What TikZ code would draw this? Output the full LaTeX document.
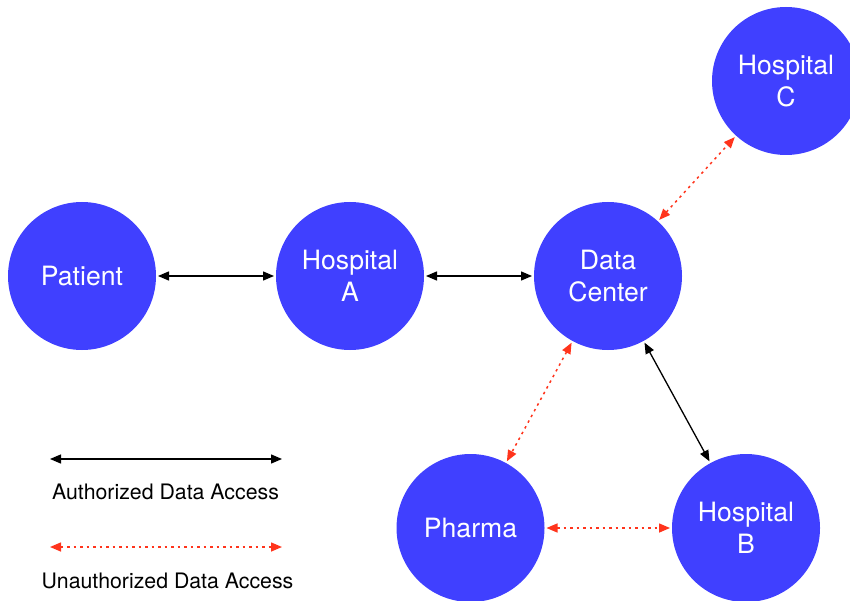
\documentclass[tikz,border=0pt]{standalone}
\usepackage{fontspec}
\setmainfont{TeX Gyre Heros}
\usetikzlibrary{arrows.meta}
\definecolor{nodeblue}{RGB}{64,64,255}
\definecolor{accred}{RGB}{255,52,28}
\begin{document}
\begin{tikzpicture}[x=1pt,y=-1pt,
  ent/.style={circle,fill=nodeblue,draw=none,minimum size=148pt,inner sep=0pt,outer sep=0pt,
    text=white,align=center,font=\fontsize{26.6}{32}\selectfont},
  auth/.style={draw=black,line width=1.3pt,{Triangle[length=11pt,width=9pt]}-{Triangle[length=11pt,width=9pt]},shorten >=2pt,shorten <=2pt},
  unauth/.style={draw=accred,line width=1.5pt,dash pattern=on 2.5pt off 4pt,
    {Triangle[length=11pt,width=9pt]}-{Triangle[length=11pt,width=9pt]},shorten >=2pt,shorten <=2pt},
  legtext/.style={font=\fontsize{21.3}{25}\selectfont,text=black,inner sep=0pt}]
\useasboundingbox (0,0) rectangle (850,601);
\node[ent] (patient) at (82,276) {Patient};
\node[ent] (hospA) at (350,276) {Hospital\\A};
\node[ent] (dc) at (608,276) {Data\\Center};
\node[ent] (hospC) at (786,81) {Hospital\\C};
\node[ent] (pharma) at (470.5,528) {Pharma};
\node[ent] (hospB) at (746,528) {Hospital\\B};
\draw[auth] (patient) -- (hospA);
\draw[auth] (hospA) -- (dc);
\draw[auth] (dc) -- (hospB);
\draw[unauth] (dc) -- (hospC);
\draw[unauth] (dc) -- (pharma);
\draw[unauth] (pharma) -- (hospB);
\coordinate (l1a) at (50,459);
\coordinate (l1b) at (282,459);
\coordinate (l2a) at (50,547);
\coordinate (l2b) at (282,547);
\draw[auth,shorten >=0pt,shorten <=0pt] (l1a) -- (l1b);
\draw[unauth,shorten >=0pt,shorten <=0pt] (l2a) -- (l2b);
\node[legtext] (lab1) at (165.5,492) {Authorized Data Access};
\node[legtext] (lab2) at (167.5,581) {Unauthorized Data Access};
\end{tikzpicture}
\end{document}
